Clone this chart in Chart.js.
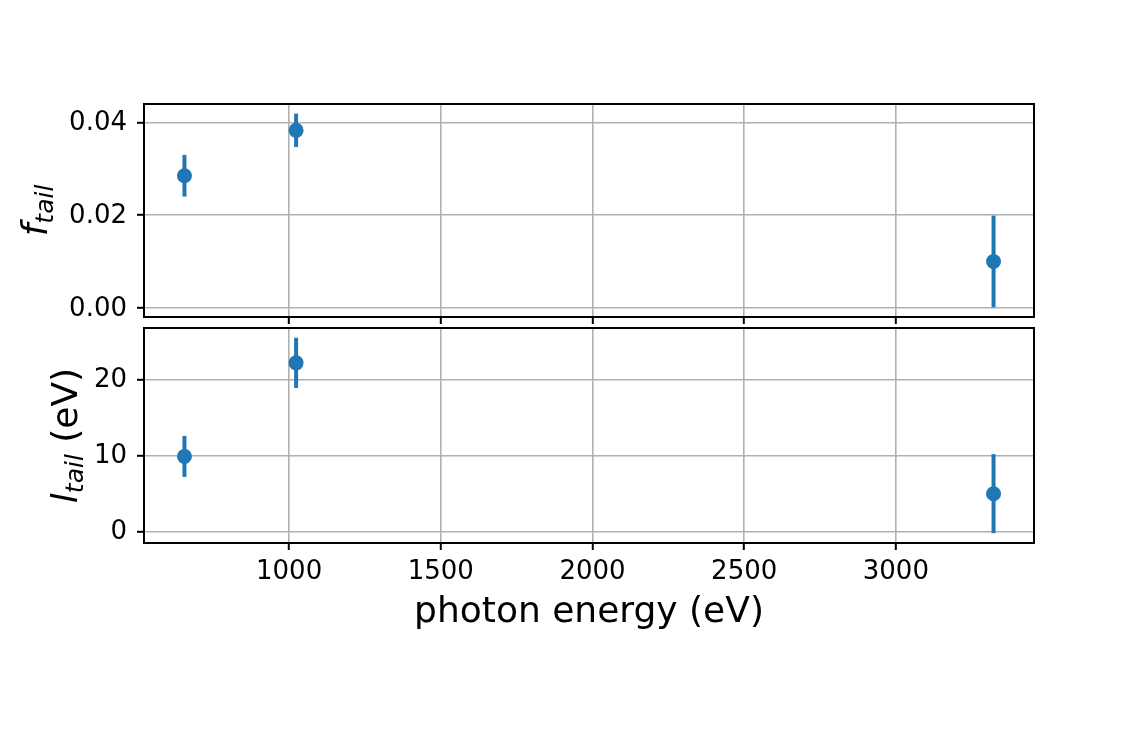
<!DOCTYPE html>
<html><head><meta charset="utf-8">
<script src="https://cdn.jsdelivr.net/npm/chart.js@4.4.1/dist/chart.umd.min.js"></script>
<style>
html,body{margin:0;padding:0;background:#fff;}
#wrap{position:relative;width:1148px;height:751px;background:#fff;}
canvas{position:absolute;left:0;top:0;}
</style>
</head><body>
<div id="wrap"><canvas id="cTop" width="1148" height="751"></canvas><canvas id="cBot" width="1148" height="751"></canvas></div>
<script>
// ---- data ----
const photonEnergy = [655, 1023, 3322];
const fTail = [0.0285, 0.0383, 0.0100];
const fTailErr = [0.0045, 0.0036, 0.0099];
const lTail = [9.9, 22.2, 5.0];
const lTailErr = [2.7, 3.3, 5.2];
const xTickValues = [1000, 1500, 2000, 2500, 3000];
const fTickValues = [0, 0.02, 0.04];
const lTickValues = [0, 10, 20];
const xTitle = 'photon energy (eV)';

// ---- style ----
const BLUE = '#1f77b4';
const GRID = '#b0b0b0';
const FONT = 'DejaVu Sans';
const W = 1148, H = 751;
const AREA_L = 144, AREA_R = 1034;

function padRange(lo, hi) { const m = (hi - lo) * 0.05; return [lo - m, hi + m]; }
const xRange = padRange(Math.min(...photonEnergy), Math.max(...photonEnergy));

function makePanel(canvasId, opts) {
  const { vals, errs, ticks, fmt, top, bottom, showXLabels, titleParts, titleX } = opts;
  const lows = vals.map((v, i) => v - errs[i]);
  const highs = vals.map((v, i) => v + errs[i]);
  const yRange = padRange(Math.min(...lows), Math.max(...highs));

  const datasets = [{
    data: photonEnergy.map((x, i) => ({ x, y: vals[i] })),
    backgroundColor: BLUE, borderColor: BLUE,
    pointRadius: 7.5, pointHoverRadius: 7.5, borderWidth: 0, showLine: false
  }];
  photonEnergy.forEach((x, i) => {
    datasets.push({
      data: [{ x, y: lows[i] }, { x, y: highs[i] }],
      showLine: true, borderColor: BLUE, borderWidth: 4, pointRadius: 0,
      pointHoverRadius: 0, borderCapStyle: 'butt'
    });
  });

  const framePlugin = {
    id: 'frame',
    afterDatasetsDraw(chart) {
      const { ctx, chartArea: a } = chart;
      ctx.save();
      ctx.strokeStyle = '#000';
      ctx.lineWidth = 2;
      ctx.strokeRect(a.left, a.top, a.right - a.left, a.bottom - a.top);
      ctx.restore();
    },
    afterDraw(chart) {
      const { ctx, chartArea: a } = chart;
      ctx.save();
      ctx.fillStyle = '#000';
      ctx.textBaseline = 'alphabetic';
      ctx.textAlign = 'left';
      let total = 0;
      titleParts.forEach(p => { ctx.font = p.font; p.w = ctx.measureText(p.text).width; total += p.w; });
      ctx.translate(titleX, (a.top + a.bottom) / 2);
      ctx.rotate(-Math.PI / 2);
      let x = -total / 2;
      titleParts.forEach(p => { ctx.font = p.font; ctx.fillText(p.text, x, p.dy || 0); x += p.w; });
      ctx.restore();
      if (showXLabels) {
        ctx.save();
        ctx.fillStyle = '#000';
        ctx.font = '36px "' + FONT + '"';
        ctx.textAlign = 'center';
        ctx.textBaseline = 'alphabetic';
        ctx.fillText(xTitle, (a.left + a.right) / 2, 622);
        ctx.restore();
      }
    }
  };

  return new Chart(document.getElementById(canvasId), {
    type: 'scatter',
    data: { datasets },
    options: {
      responsive: false, animation: false, events: [],
      layout: { padding: { left: 0, top: top, right: W - AREA_R, bottom: 0 } },
      plugins: { legend: { display: false }, tooltip: { enabled: false } },
      scales: {
        x: {
          type: 'linear', min: xRange[0], max: xRange[1],
          afterFit: s => { s.height = H - bottom; },
          afterBuildTicks: s => { s.ticks = xTickValues.map(v => ({ value: v })); },
          border: { display: false },
          grid: { color: GRID, lineWidth: 1.6, drawTicks: true, tickLength: 7, tickColor: '#000', tickWidth: 2 },
          ticks: {
            display: showXLabels, autoSkip: false, maxRotation: 0, padding: 7,
            color: '#000', font: { family: FONT, size: 26 },
            callback: v => String(v)
          }
        },
        y: {
          type: 'linear', min: yRange[0], max: yRange[1],
          afterFit: s => { s.width = AREA_L; },
          afterBuildTicks: s => { s.ticks = ticks.map(v => ({ value: v })); },
          border: { display: false },
          grid: { color: GRID, lineWidth: 1.6, drawTicks: true, tickLength: 7, tickColor: '#000', tickWidth: 2 },
          ticks: {
            autoSkip: false, padding: 10, color: '#000', labelOffset: 1,
            font: { family: FONT, size: 26 }, callback: fmt
          }
        }
      }
    },
    plugins: [framePlugin]
  });
}

makePanel('cTop', {
  vals: fTail, errs: fTailErr, ticks: fTickValues, fmt: v => v.toFixed(2),
  top: 104, bottom: 317, showXLabels: false, titleX: 47,
  titleParts: [
    { text: 'f', font: 'italic 36px "' + FONT + '"' },
    { text: 'tail', font: 'italic 25px "' + FONT + '"', dy: 6 }
  ]
});
makePanel('cBot', {
  vals: lTail, errs: lTailErr, ticks: lTickValues, fmt: v => String(Math.round(v)),
  top: 328, bottom: 543, showXLabels: true, titleX: 77,
  titleParts: [
    { text: 'l', font: 'italic 36px "' + FONT + '"' },
    { text: 'tail', font: 'italic 25px "' + FONT + '"', dy: 6 },
    { text: ' (eV)', font: '36px "' + FONT + '"' }
  ]
});
</script>
</body></html>
